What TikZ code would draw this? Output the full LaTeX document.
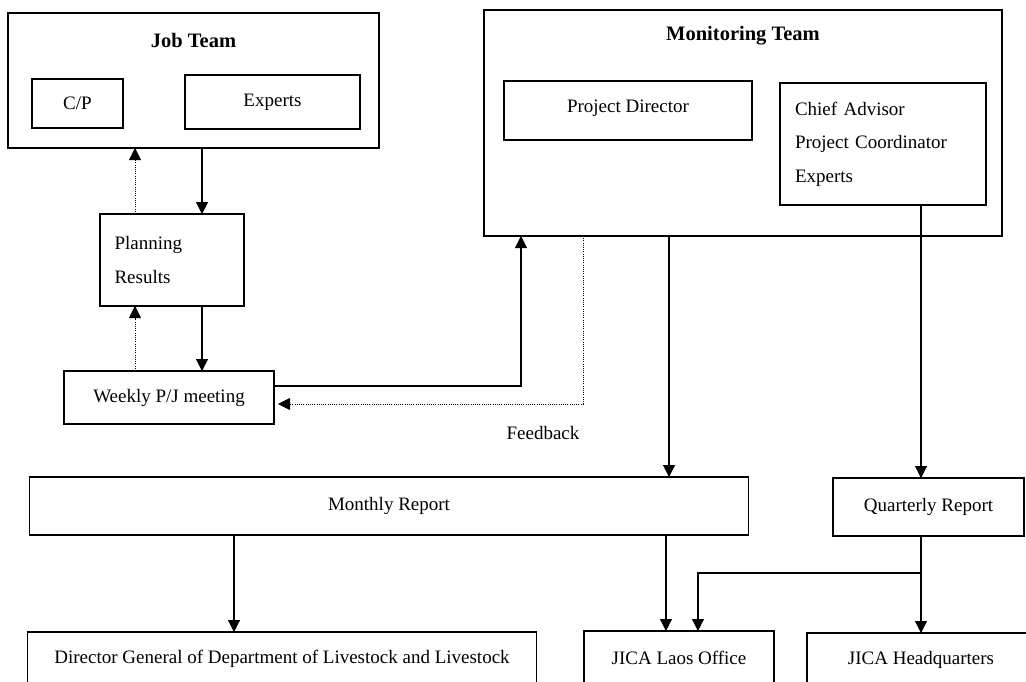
\documentclass[tikz,border=0pt]{standalone}
\usepackage{fontspec}
\setmainfont{Liberation Serif}
\usetikzlibrary{arrows.meta}
\newcommand\diagbody{\fontsize{19}{23}\selectfont}
\newcommand\diaglist{\fontsize{19}{33.5}\selectfont}
\newcommand\diagtitle{\fontsize{20.5}{24}\selectfont\bfseries}
\begin{document}
\begin{tikzpicture}[x=1pt,y=-1pt,
  box/.style={draw, line width=1.1pt, inner sep=0pt, outer sep=0pt, font=\diagbody},
  txt/.style={inner sep=0pt, font=\diagbody},
  title/.style={inner sep=0pt, font=\diagtitle},
  arr/.style={line width=1.1pt, -{Triangle[width=12pt,length=12pt]}},
  dotarr/.style={line width=0.8pt, dash pattern=on 1pt off 1.2pt, -{Triangle[width=12pt,length=12pt]}},
]
\useasboundingbox (0,0) rectangle (1026,681);
\clip (0,0) rectangle (1026,681);

% Job team
\node[box, minimum width=371pt, minimum height=135pt] (job) at (193.5,80.5) {};
\node[title] (jobtitle) at (193.5,40) {Job Team};
\node[box, minimum width=91pt, minimum height=49pt] (cp) at (77.5,103.5) {C/P};
\node[box, minimum width=175pt, minimum height=54pt] (exp) at (272.5,102) {Experts};

% Monitoring team
\node[box, minimum width=518pt, minimum height=226pt] (mon) at (743,123) {};
\node[title] (montitle) at (743,36) {Monitoring Team};
\node[box, minimum width=248pt, minimum height=59pt] (pd) at (628,110.5) {};
\node[txt] (pdtext) at (628,108) {Project Director};
\node[box, minimum width=206pt, minimum height=122pt, text width=176pt, align=left, font=\diaglist] (ca) at (883,144)
  {Chief Advisor\\Project Coordinator\\Experts};

% Planning and weekly meeting
\node[box, minimum width=144pt, minimum height=92pt, text width=115pt, align=left, font=\diaglist] (plan) at (172,260)
  {Planning\\Results};
\node[box, minimum width=210pt, minimum height=53pt] (weekly) at (169,397.5) {Weekly P/J meeting};
\node[txt] (fb) at (543,433) {Feedback};

% Reports
\node[box, minimum width=718.5pt, minimum height=58pt] (monthly) at (389,506) {Monthly Report};
\node[box, minimum width=191pt, minimum height=58pt] (quarterly) at (928.5,507) {Quarterly Report};

% Recipients
\node[box, minimum width=509.5pt, minimum height=54pt] (dg) at (282,659) {Director General of Department of Livestock and Livestock};
\node[box, minimum width=190pt, minimum height=54pt] (laos) at (679,658) {JICA Laos Office};
\node[box, minimum width=228pt, minimum height=54pt] (hq) at (921,660) {JICA Headquarters};

% Connectors
\draw[arr] (job.south -| 202,0) -- (plan.north -| 202,0);
\draw[dotarr] (plan.north -| 135,0) -- (job.south -| 135,0);
\draw[arr] (plan.south -| 202,0) -- (weekly.north -| 202,0);
\draw[dotarr] (weekly.north -| 135,0) -- (plan.south -| 135,0);
\draw[arr] (weekly.east |- 0,386) -| (mon.south -| 521,0);
\draw[dotarr, shorten >=4pt] (mon.south -| 583,0) |- (weekly.east |- 0,404);
\draw[arr] (mon.south -| 669,0) -- (monthly.north -| 669,0);
\draw[arr] (ca.south -| 921,0) -- (quarterly.north -| 921,0);
\draw[arr] (monthly.south -| 234,0) -- (dg.north -| 234,0);
\draw[arr] (monthly.south -| 666,0) -- (laos.north -| 666,0);
\draw[arr] (quarterly.south -| 921,0) -- (hq.north -| 921,0);
\coordinate (branch) at (921,573);
\draw[arr] (branch) -| (laos.north -| 698,0);
\end{tikzpicture}
\end{document}
